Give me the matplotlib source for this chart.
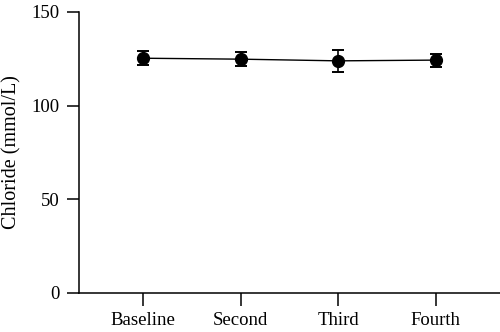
import matplotlib
matplotlib.use("Agg")
import matplotlib.pyplot as plt

# Serum chloride across four measurement time points (mean ± SD)
timepoints = ["Baseline", "Second", "Third", "Fourth"]
chloride_mean = [125.3, 124.8, 123.9, 124.3]
chloride_sd = [3.6, 3.6, 5.8, 3.5]
y_ticks = [0, 50, 100, 150]

plt.rcParams["font.family"] = ["Liberation Serif", "DejaVu Serif"]

fig = plt.figure(figsize=(5.0, 3.32), dpi=100)
ax = fig.add_axes([0.158, 0.1175, 0.842, 0.8465])

x = list(range(len(timepoints)))
ax.errorbar(x, chloride_mean, yerr=chloride_sd, color="black",
            marker="o", markersize=8.5, linewidth=1.0,
            elinewidth=1.2, capsize=4.3, capthick=1.4)

ax.set_xlim(-0.66, 3.66)
ax.set_ylim(0, 150)
ax.set_xticks(x)
ax.set_xticklabels(timepoints)
ax.set_yticks(y_ticks)
ax.set_ylabel("Chloride (mmol/L)", fontsize=14.5, labelpad=7)

for side in ("top", "right"):
    ax.spines[side].set_visible(False)
for side in ("left", "bottom"):
    ax.spines[side].set_linewidth(1.1)
ax.spines["left"].set_bounds(0, 150)

ax.tick_params(axis="both", direction="out", length=9, width=1.1,
               labelsize=13.5, colors="black")
ax.tick_params(axis="y", pad=5)
ax.tick_params(axis="x", pad=5)

fig.savefig("out.png", dpi=100)
